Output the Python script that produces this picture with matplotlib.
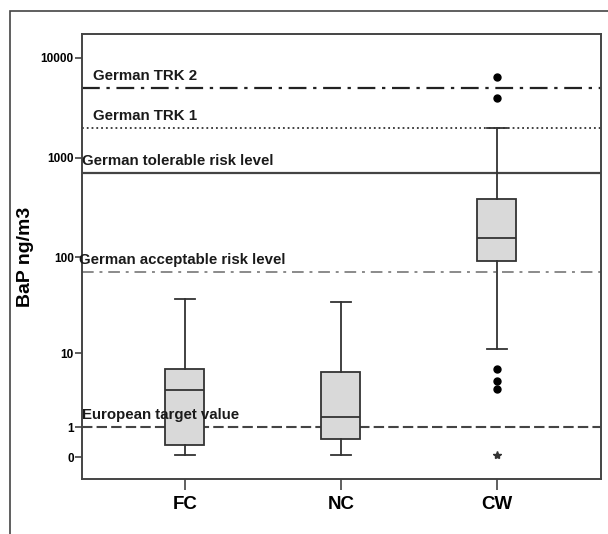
import matplotlib.pyplot as plt
from matplotlib.patches import Rectangle
import numpy as np

plt.rcParams['font.family'] = ['Liberation Sans', 'DejaVu Sans']

categories = ['FC', 'NC', 'CW']
# box statistics (ng/m3)
whisker_lo = [0.04, 0.04, 11.2]
q1 = [0.31, 0.50, 91]
medians = [3.7, 1.52, 157]
q3 = [6.7, 6.1, 382]
whisker_hi = [37, 35, 2000]
outliers = [[], [], [6400, 4000, 6.7, 4.8, 3.8]]
extremes = [[], [], [0.04]]

# reference lines
ref_values = [5000, 2000, 700, 70, 1]
ref_labels = ['German TRK 2', 'German TRK 1', 'German tolerable risk level',
              'German acceptable risk level', 'European target value']
ref_styles = [(0, (8, 3, 1.5, 3)), ':', '-', (0, (6, 3, 1.5, 3)), (0, (5, 2))]
ref_colors = ['#222222', '#333333', '#444444', '#8a8a8a', '#444444']
ref_widths = [1.6, 1.3, 1.6, 1.4, 1.5]
ref_text_x = [0.41, 0.41, 0.34, 0.32, 0.34]

yticks = [0, 1, 10, 100, 1000, 10000]


def fwd(v):
    return np.log10(np.clip(np.asarray(v, dtype=float) + 1, 1e-6, None))


def inv(t):
    return 10 ** np.asarray(t, dtype=float) - 1


def make_plot():
    fig = plt.figure(figsize=(6.08, 5.34), dpi=100)
    fig.patches.append(Rectangle((10 / 608, -0.1), 1.2, 1 - 11 / 534 + 0.1,
                                 transform=fig.transFigure, fill=False,
                                 edgecolor='#444444', linewidth=1.2))
    ax = fig.add_axes([82 / 608, 1 - 479 / 534, (601 - 82) / 608, (479 - 34) / 534])
    ax.set_yscale('function', functions=(fwd, inv))

    for v, lab, ls, c, lw, tx in zip(ref_values, ref_labels, ref_styles,
                                     ref_colors, ref_widths, ref_text_x):
        ax.axhline(v, linestyle=ls, color=c, linewidth=lw, zorder=1)
        ax.text(tx, v * 1.12 + 0.1, lab, fontsize=10.8, fontweight='bold',
                color='#1a1a1a', va='bottom', ha='left', zorder=4)

    stats = []
    for i in range(len(categories)):
        stats.append({'whislo': whisker_lo[i], 'q1': q1[i], 'med': medians[i],
                      'q3': q3[i], 'whishi': whisker_hi[i], 'fliers': outliers[i]})
    pos = np.arange(1, len(categories) + 1)
    ax.bxp(stats, positions=pos, widths=0.25, patch_artist=True,
           boxprops=dict(facecolor='#d9d9d9', edgecolor='#333333', linewidth=1.3),
           medianprops=dict(color='#333333', linewidth=1.3),
           whiskerprops=dict(color='#333333', linewidth=1.3),
           capprops=dict(color='#333333', linewidth=1.3),
           capwidths=0.125,
           flierprops=dict(marker='o', markerfacecolor='black',
                           markeredgecolor='black', markersize=5),
           zorder=3)
    for p, ex in zip(pos, extremes):
        if ex:
            ax.plot([p] * len(ex), ex, linestyle='none', marker='*',
                    color='#333333', markersize=6, zorder=3)

    ax.set_xlim(0.34, 3.667)
    ax.set_ylim(inv(-0.22), inv(4.24))
    ax.set_xticks(pos)
    ax.set_xticklabels(categories, fontsize=13.5, fontweight='bold')
    ax.set_yticks(yticks)
    ax.set_yticklabels([str(t) for t in yticks], fontsize=8.5, fontweight='bold')
    ax.yaxis.set_minor_locator(plt.NullLocator())
    ax.tick_params(axis='y', length=5, width=1.2, color='#444444', pad=1)
    ax.tick_params(axis='x', length=8, width=1.2, color='#444444', pad=4)
    ax.set_ylabel('BaP ng/m3', fontsize=14, fontweight='bold')
    ax.yaxis.set_label_coords(-0.093, 0.5)
    for s in ax.spines.values():
        s.set_color('#444444')
        s.set_linewidth(1.4)

    plt.savefig('out.png', dpi=100)


def main():
    make_plot()


if __name__ == "__main__":
    main()
